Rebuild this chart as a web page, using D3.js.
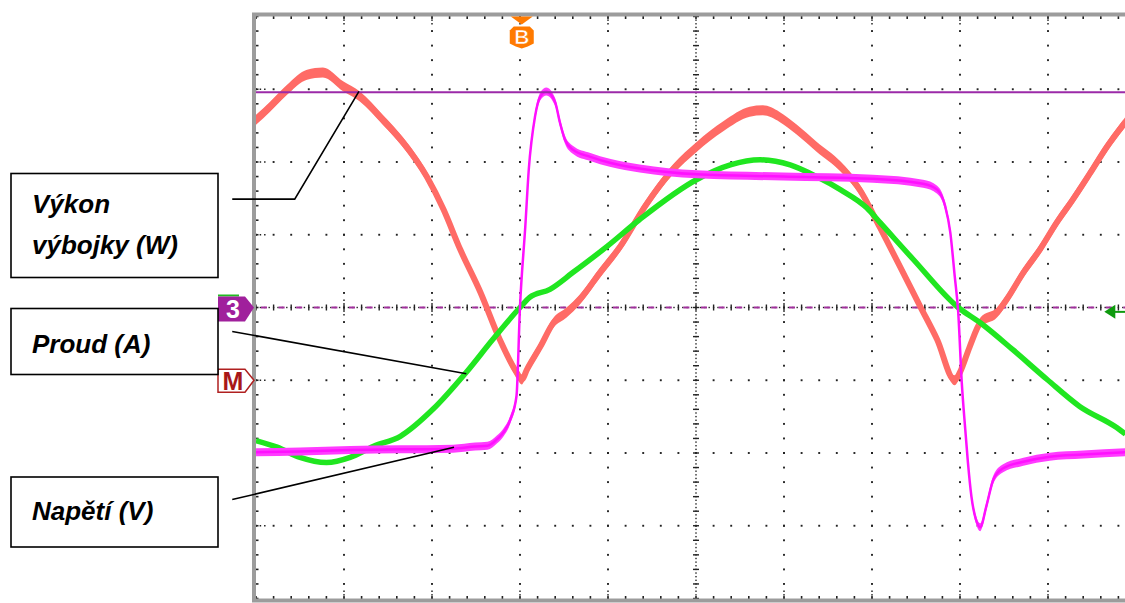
<!DOCTYPE html>
<html lang="cs">
<head>
<meta charset="utf-8">
<title>Výkon výbojky</title>
<script src="https://cdn.jsdelivr.net/npm/d3@7"></script>
<style>
  body { margin: 0; background: #fff; }
  .lbl { font-family: "Liberation Sans", Arial, sans-serif; font-size: 26px; font-weight: bold; font-style: italic; fill: #000; }
  .mk { font-family: "Liberation Sans", Arial, sans-serif; font-weight: bold; text-anchor: middle; }
</style>
</head>
<body>
<svg id="chart" width="1125" height="603"></svg>
<script>
// time in divisions (0..10), amplitude in divisions (-4..4)
var voltT = [0, 0.5, 1.07, 1.64, 2.24, 2.49, 2.63, 2.74, 2.81, 2.89, 2.96, 3.00, 3.06, 3.10, 3.17, 3.23, 3.30, 3.40, 3.45, 3.51, 3.60, 3.80, 4.02, 4.36, 5.01, 5.99, 7.01, 7.58, 7.74, 7.83, 7.89, 7.94, 7.98, 8.02, 8.06, 8.09, 8.13, 8.18, 8.23, 8.30, 8.38, 8.49, 8.72, 9.02, 9.40, 9.88];
var voltV = [-1.99, -1.98, -1.96, -1.95, -1.94, -1.91, -1.90, -1.81, -1.72, -1.54, -1.22, 0.01, 1.11, 1.90, 2.62, 2.90, 2.97, 2.82, 2.56, 2.31, 2.17, 2.07, 1.99, 1.91, 1.83, 1.80, 1.77, 1.70, 1.62, 1.40, 1.03, 0.43, -0.07, -1.03, -1.68, -2.13, -2.60, -2.91, -3.02, -2.73, -2.36, -2.21, -2.12, -2.05, -2.02, -1.99];

var currT = [0, 0.24, 0.50, 0.80, 1.07, 1.33, 1.64, 2.01, 2.39, 2.69, 3.00, 3.11, 3.34, 3.60, 3.99, 4.36, 5.01, 5.39, 5.73, 6.07, 6.37, 6.64, 6.94, 7.09, 7.47, 7.98, 8.23, 8.60, 8.99, 9.36, 9.78, 9.88];
var currI = [-1.83, -1.92, -2.06, -2.13, -2.06, -1.91, -1.77, -1.40, -0.89, -0.44, 0.00, 0.14, 0.25, 0.48, 0.84, 1.21, 1.76, 1.96, 2.03, 1.96, 1.80, 1.62, 1.37, 1.17, 0.66, 0.00, -0.21, -0.58, -0.99, -1.36, -1.65, -1.74];

var powT = [0, 0.16, 0.35, 0.58, 0.76, 0.99, 1.18, 1.44, 1.67, 1.94, 2.13, 2.32, 2.55, 2.77, 2.96, 3.02, 3.08, 3.23, 3.38, 3.53, 3.68, 3.91, 4.14, 4.42, 4.74, 5.01, 5.31, 5.61, 5.76, 5.95, 6.14, 6.37, 6.64, 6.86, 7.09, 7.32, 7.55, 7.74, 7.94, 8.00, 8.11, 8.23, 8.42, 8.53, 8.72, 8.91, 9.10, 9.28, 9.48, 9.67, 9.88];
var powP = [2.58, 2.76, 2.99, 3.20, 3.23, 3.04, 2.90, 2.58, 2.27, 1.80, 1.35, 0.80, 0.21, -0.44, -0.89, -0.99, -0.85, -0.54, -0.21, -0.07, 0.11, 0.48, 0.84, 1.39, 1.90, 2.21, 2.49, 2.69, 2.71, 2.62, 2.45, 2.21, 1.94, 1.62, 1.10, 0.56, 0.01, -0.44, -1.00, -0.89, -0.54, -0.21, -0.07, 0.11, 0.48, 0.80, 1.17, 1.48, 1.85, 2.21, 2.55];

var cursorLevel = 2.96;     // purple horizontal cursor
var triggerT = 3.02;        // "B" trigger marker
var ch3Ref = 0;             // "3" marker / dashed reference
var mathRef = -1;           // "M" marker
var currRef = -0.06;        // green arrow on the right
var currRefT = 9.64;

var labels = [
  { lines: ["Výkon", "výbojky (W)"], anchor: [1.17, 2.97], elbow: [0.44, 1.49], from: [-0.27, 1.49] },
  { lines: ["Proud (A)"], anchor: [2.39, -0.91], from: [-0.27, -0.33] },
  { lines: ["Napětí (V)"], anchor: [2.25, -1.92], from: [-0.27, -2.64] }
];

var svg = d3.select("#chart");
var x = d3.scaleLinear().domain([0, 10]).range([256, 1136]);
var y = d3.scaleLinear().domain([-4, 4]).range([598.5, 16.5]);

svg.append("rect").attr("width", 1125).attr("height", 603).attr("fill", "#fff");

svg.append("clipPath").attr("id", "plot")
  .append("rect").attr("x", x(0)).attr("y", y(4)).attr("width", x(10) - x(0)).attr("height", y(-4) - y(4));

var grid = svg.append("g").attr("fill", "#222");
var dot = function(px, py, w, h) {
  grid.append("rect").attr("x", px - w / 2).attr("y", py - h / 2).attr("width", w).attr("height", h);
};

// dotted graticule
d3.range(-3, 4).forEach(function(v) {
  if (v === 0) return;
  d3.range(0, 10.01, 0.2).forEach(function(t) { dot(x(t), y(v), 1.9, 1.9); });
  [0.05, 0.1, 9.9, 9.95].forEach(function(t) { dot(x(t), y(v), 1.5, 1.5); });
});
d3.range(1, 10).forEach(function(t) {
  if (t === 5) return;
  d3.range(-4, 4.01, 0.2).forEach(function(v) { dot(x(t), y(v), 1.9, 1.9); });
  [-3.95, -3.9, -0.1, -0.05, 0.05, 0.1, 3.9, 3.95].forEach(function(v) { dot(x(t), y(v), 1.5, 1.5); });
});
// center axes with minor ticks
d3.range(0, 10.001, 0.05).forEach(function(t) { dot(x(t), y(0), 1.4, 1.4); });
d3.range(0, 10.001, 0.2).forEach(function(t) { dot(x(t), y(0), 1.4, 6); });
d3.range(-4, 4.001, 0.05).forEach(function(v) { dot(x(5), y(v), 1.4, 1.4); });
d3.range(-4, 4.001, 0.2).forEach(function(v) { dot(x(5), y(v), 6, 1.4); });

// frame with edge ticks
svg.append("rect").attr("x", x(0) - 2).attr("y", y(4) - 2)
  .attr("width", x(10) - x(0) + 4).attr("height", y(-4) - y(4) + 4)
  .attr("fill", "none").attr("stroke", "#9c9c9c").attr("stroke-width", 4);
d3.range(0, 10.001, 0.2).forEach(function(t) {
  dot(x(t), y(4) + 1, 1.6, 3);
  dot(x(t), y(-4) - 1, 1.6, 3);
});
d3.range(-4, 4.001, 0.2).forEach(function(v) { dot(x(0) + 1, y(v), 3, 1.6); });

// reference lines
svg.append("line").attr("x1", x(0)).attr("x2", x(10)).attr("y1", y(ch3Ref)).attr("y2", y(ch3Ref))
  .attr("stroke", "#a0309c").attr("stroke-width", 2).attr("stroke-dasharray", "6 11.6")
  .attr("stroke-dashoffset", -5);

var traces = svg.append("g").attr("clip-path", "url(#plot)");
var zip = function(a, b) { return a.map(function(t, i) { return [t, b[i]]; }); };
var line = d3.line().x(function(d) { return x(d[0]); }).y(function(d) { return y(d[1]); }).curve(d3.curveMonotoneX);
var band = function(h) {
  return d3.area().x(function(d) { return x(d[0]); })
    .y0(function(d) { return y(d[1]) - h; }).y1(function(d) { return y(d[1]) + h; })
    .curve(d3.curveMonotoneX);
};

var pow = zip(powT, powP), curr = zip(currT, currI), volt = zip(voltT, voltV);

traces.append("path").datum(pow).attr("d", band(5)).attr("fill", "#ff6b66");
traces.append("path").datum(pow).attr("d", line).attr("fill", "none").attr("stroke", "#ff6b66").attr("stroke-width", 6);

traces.append("path").datum(curr).attr("d", line).attr("fill", "none").attr("stroke", "#20e620").attr("stroke-width", 5.5);

traces.append("path").datum(volt).attr("d", band(4)).attr("fill", "#ff3cff");
traces.append("path").datum(volt).attr("d", line).attr("fill", "none").attr("stroke", "#ff10ff").attr("stroke-width", 2.5);

// cursor
svg.append("line").attr("x1", x(0)).attr("x2", x(10)).attr("y1", y(cursorLevel)).attr("y2", y(cursorLevel))
  .attr("stroke", "#9b2aa8").attr("stroke-width", 2);

// channel markers
var x0 = x(0), y3 = y(ch3Ref), yM = y(mathRef);
svg.append("rect").attr("x", x0 - 38).attr("y", y3 - 13).attr("width", 21).attr("height", 2).attr("fill", "#22bb22");
svg.append("path")
  .attr("d", "M" + (x0 - 38) + "," + (y3 - 11) + "H" + (x0 - 11) + "L" + (x0 - 2) + "," + y3 +
             "L" + (x0 - 11) + "," + (y3 + 14) + "H" + (x0 - 38) + "Z")
  .attr("fill", "#a0209c");
svg.append("text").attr("class", "mk").attr("x", x0 - 23).attr("y", y3 + 10)
  .attr("font-size", 25).attr("fill", "#fff").text("3");

svg.append("path")
  .attr("d", "M" + (x0 - 38) + "," + (yM - 11) + "H" + (x0 - 11) + "L" + (x0 - 2) + "," + yM +
             "L" + (x0 - 11) + "," + (yM + 12) + "H" + (x0 - 38) + "Z")
  .attr("fill", "#fff").attr("stroke", "#b02020").attr("stroke-width", 1.5);
svg.append("text").attr("class", "mk").attr("x", x0 - 23).attr("y", yM + 10)
  .attr("font-size", 25).attr("fill", "#a81818").text("M");

var xb = x(triggerT), yt = y(4);
svg.append("path").attr("d", "M" + (xb - 11) + "," + yt + "H" + (xb + 11) + "L" + xb + "," + (yt + 8) + "Z")
  .attr("fill", "#ff7a00");
svg.append("path")
  .attr("d", "M" + (xb - 8) + "," + (yt + 10) + "H" + (xb + 8) + "L" + (xb + 12) + "," + (yt + 14) +
             "V" + (yt + 27) + "L" + (xb + 6) + "," + (yt + 30) + "L" + xb + "," + (yt + 32) +
             "L" + (xb - 6) + "," + (yt + 30) + "L" + (xb - 12) + "," + (yt + 27) + "V" + (yt + 14) + "Z")
  .attr("fill", "#ff7a00");
svg.append("text").attr("class", "mk").attr("x", xb).attr("y", yt + 27.5)
  .attr("font-size", 21).attr("fill", "#fff").attr("stroke", "#ff7a00").attr("stroke-width", 0.6).text("B");

var ya = y(currRef), xa = x(currRefT);
svg.append("path").attr("d", "M" + xa + "," + ya + "L" + (xa + 11) + "," + (ya - 7) + "V" + (ya + 7) + "Z")
  .attr("fill", "#0e9a0e");
svg.append("line").attr("x1", xa + 10).attr("x2", 1125).attr("y1", ya).attr("y2", ya)
  .attr("stroke", "#0e9a0e").attr("stroke-width", 2);

// annotation boxes
var boxes = [
  { x: 11, y: 173.5, w: 207, h: 104, base: [213, 254] },
  { x: 11, y: 308.5, w: 207, h: 66, base: [353] },
  { x: 11, y: 477, w: 207, h: 70, base: [520] }
];
labels.forEach(function(l, i) {
  var b = boxes[i];
  svg.append("rect").attr("x", b.x).attr("y", b.y).attr("width", b.w).attr("height", b.h)
    .attr("fill", "#fff").attr("stroke", "#000").attr("stroke-width", 1.6);
  l.lines.forEach(function(s, j) {
    svg.append("text").attr("class", "lbl").attr("x", 32).attr("y", b.base[j]).text(s);
  });
  var pts = [l.from];
  if (l.elbow) pts.push(l.elbow);
  pts.push(l.anchor);
  svg.append("path").attr("d", d3.line().x(function(d) { return x(d[0]); }).y(function(d) { return y(d[1]); })(pts))
    .attr("fill", "none").attr("stroke", "#000").attr("stroke-width", 1.6);
});
</script>
</body>
</html>
